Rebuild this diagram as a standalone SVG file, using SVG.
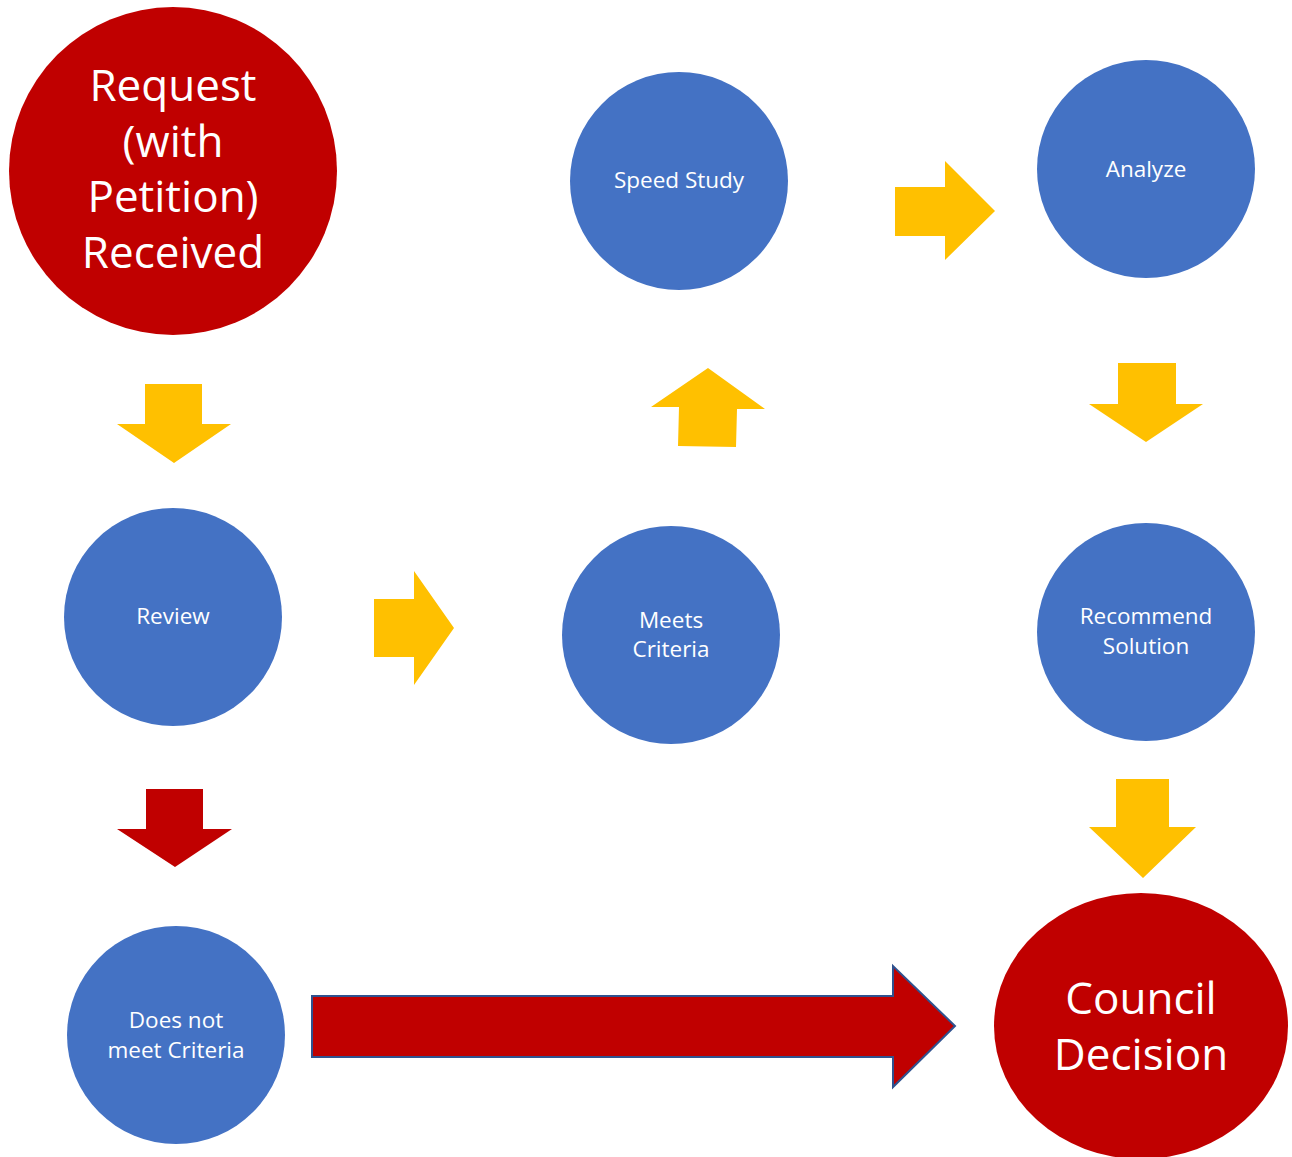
<svg xmlns="http://www.w3.org/2000/svg" width="1292" height="1157" viewBox="0 0 1292 1157">
<style>
.red{fill:#C00000}
.blue{fill:#4472C4}
.yel{fill:#FFC000}
text{font-family:"Open Sans","Liberation Sans",sans-serif;fill:#fff;text-anchor:middle}
.big{font-size:44px}
.sm{font-size:22.5px}
</style>
<rect width="1292" height="1157" fill="#fff"/>
<g id="connectors">
<polygon class="yel" points="145,384 202,384 202,424 231,424 174,463 117,424 145,424"/>
<polygon class="red" points="146,789 203,789 203,829 232,829 175,867 117,829 146,829"/>
<polygon class="yel" points="374,599 414,599 414,571 454,628 414,685 414,657 374,657"/>
<polygon class="yel" points="708,368 765,409 737,409 736,447 678,446 679,407 651,407"/>
<polygon class="yel" points="895,187 945,187 945,161 995,211 945,260 945,236 895,236"/>
<polygon class="yel" points="1118,363 1176,363 1176,404 1203,404 1146,442 1089,404 1118,404"/>
<polygon class="yel" points="1116,779 1169,779 1169,827 1196,827 1143,878 1089,827 1116,827"/>
<polygon class="red" points="312,996 893,996 893,966 955,1026 893,1087 893,1057 312,1057" stroke="#2F528F" stroke-width="2"/>
</g>
<g id="request"><circle class="red" cx="173" cy="171" r="164"/>
<text class="big" x="173" y="101">Request</text><text class="big" x="173" y="157">(with</text><text class="big" x="173" y="212">Petition)</text><text class="big" x="173" y="268">Received</text></g>
<g id="speed"><circle class="blue" cx="679" cy="181" r="109"/><text class="sm" x="679" y="188">Speed Study</text></g>
<g id="analyze"><circle class="blue" cx="1146" cy="169" r="109"/><text class="sm" x="1146" y="177">Analyze</text></g>
<g id="review"><circle class="blue" cx="173" cy="617" r="109"/><text class="sm" x="173" y="624">Review</text></g>
<g id="meets"><circle class="blue" cx="671" cy="635" r="109"/><text class="sm" x="671" y="628">Meets</text><text class="sm" x="671" y="657">Criteria</text></g>
<g id="recommend"><circle class="blue" cx="1146" cy="632" r="109"/><text class="sm" x="1146" y="624">Recommend</text><text class="sm" x="1146" y="654">Solution</text></g>
<g id="doesnot"><circle class="blue" cx="176" cy="1035" r="109"/><text class="sm" x="176" y="1028">Does not</text><text class="sm" x="176" y="1058">meet Criteria</text></g>
<g id="council"><ellipse class="red" cx="1141" cy="1026" rx="147" ry="133"/><text class="big" x="1141" y="1014">Council</text><text class="big" x="1141" y="1070">Decision</text></g>
</svg>
